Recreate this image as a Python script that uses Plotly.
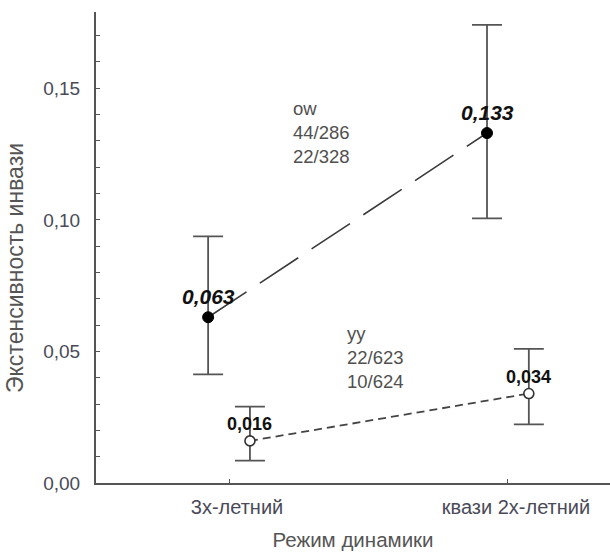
import plotly.graph_objects as go

# Categories on the x axis
categories = ["3х-летний", "квази 2х-летний"]

# Group "ow": means with upper / lower confidence limits
ow_mean = [0.063, 0.133]
ow_upper = [0.0937, 0.1741]
ow_lower = [0.0413, 0.1006]
ow_counts = ["44/286", "22/328"]

# Group "yy": means with upper / lower confidence limits
yy_mean = [0.016, 0.034]
yy_upper = [0.029, 0.051]
yy_lower = [0.0085, 0.0223]
yy_counts = ["22/623", "10/624"]

FONT = "Liberation Sans, Arial, sans-serif"
AXIS_COL = "#555555"
DODGE = 0.075  # horizontal offset of the two groups around each category


def fmt(v):
    return f"{v:.3f}".replace(".", ",")


base_x = list(range(len(categories)))
ow_x = [x - DODGE for x in base_x]
yy_x = [x + DODGE for x in base_x]

fig = go.Figure()

# connecting lines
fig.add_trace(go.Scatter(
    x=ow_x, y=ow_mean, mode="lines",
    line=dict(color="#3a3a3a", width=1.6, dash="46px,16px"),
    hoverinfo="skip"))
fig.add_trace(go.Scatter(
    x=yy_x, y=yy_mean, mode="lines",
    line=dict(color="#444444", width=1.8, dash="8px,5px"),
    hoverinfo="skip"))

# means with error bars
fig.add_trace(go.Scatter(
    x=ow_x, y=ow_mean, mode="markers",
    marker=dict(color="black", size=11, line=dict(color="black", width=1)),
    error_y=dict(type="data", symmetric=False,
                 array=[u - m for u, m in zip(ow_upper, ow_mean)],
                 arrayminus=[m - l for l, m in zip(ow_lower, ow_mean)],
                 color=AXIS_COL, thickness=1.8, width=15)))
fig.add_trace(go.Scatter(
    x=yy_x, y=yy_mean, mode="markers",
    marker=dict(color="white", size=10, line=dict(color="#333333", width=1.6)),
    error_y=dict(type="data", symmetric=False,
                 array=[u - m for u, m in zip(yy_upper, yy_mean)],
                 arrayminus=[m - l for l, m in zip(yy_lower, yy_mean)],
                 color=AXIS_COL, thickness=1.8, width=15)))

annotations = []
# value labels above the means
for x, v in zip(ow_x, ow_mean):
    annotations.append(dict(
        x=x, y=v, xref="x", yref="y", text=f"<b><i>{fmt(v)}</i></b>",
        showarrow=False, yshift=21,
        font=dict(family=FONT, size=21, color="#111111")))
for x, v in zip(yy_x, yy_mean):
    annotations.append(dict(
        x=x, y=v, xref="x", yref="y", text=f"<b>{fmt(v)}</b>",
        showarrow=False, yshift=17,
        font=dict(family=FONT, size=18, color="#111111")))

# group names with counts
annotations.append(dict(
    x=0.222, y=0.1472, xref="x", yref="y", xanchor="left", yanchor="top",
    align="left", showarrow=False,
    text="ow<br>" + "<br>".join(ow_counts),
    font=dict(family=FONT, size=18.5, color="#505050")))
annotations.append(dict(
    x=0.416, y=0.0616, xref="x", yref="y", xanchor="left", yanchor="top",
    align="left", showarrow=False,
    text="yy<br>" + "<br>".join(yy_counts),
    font=dict(family=FONT, size=18.5, color="#505050")))

# y axis title
annotations.append(dict(
    x=0, y=0.4565, xref="paper", yref="paper", xshift=-81,
    xanchor="center", yanchor="middle", textangle=-90, showarrow=False,
    text="Экстенсивность инвази",
    font=dict(family=FONT, size=23, color="#555555")))

fig.update_layout(
    width=610, height=552,
    margin=dict(l=96, r=0, t=12, b=69),
    plot_bgcolor="white", paper_bgcolor="white",
    showlegend=False,
    separators=", ",
    annotations=annotations,
    xaxis=dict(
        range=[-0.477, 1.366],
        tickvals=base_x, ticktext=categories,
        showline=True, linecolor=AXIS_COL, linewidth=2,
        ticks="inside", ticklen=4, tickcolor=AXIS_COL, tickwidth=1,
        showgrid=False, zeroline=False,
        ticklabelshift=8, ticklabelstandoff=5,
        tickfont=dict(family=FONT, size=20, color="#4a4a58"),
        title=dict(text="Режим динамики", standoff=16,
                   font=dict(family=FONT, size=20.5, color="#555555")),
    ),
    yaxis=dict(
        range=[0, 0.179],
        dtick=0.05, tickformat=".2f",
        showline=True, linecolor=AXIS_COL, linewidth=2,
        ticks="inside", ticklen=4, tickcolor=AXIS_COL, tickwidth=1,
        minor=dict(ticks="inside", dtick=0.01, ticklen=4,
                   tickcolor=AXIS_COL, tickwidth=1, showgrid=False),
        showgrid=False, zeroline=False,
        ticklabelstandoff=10,
        tickfont=dict(family=FONT, size=19, color="#4a4a58"),
    ),
)

fig.write_html("out.html")
